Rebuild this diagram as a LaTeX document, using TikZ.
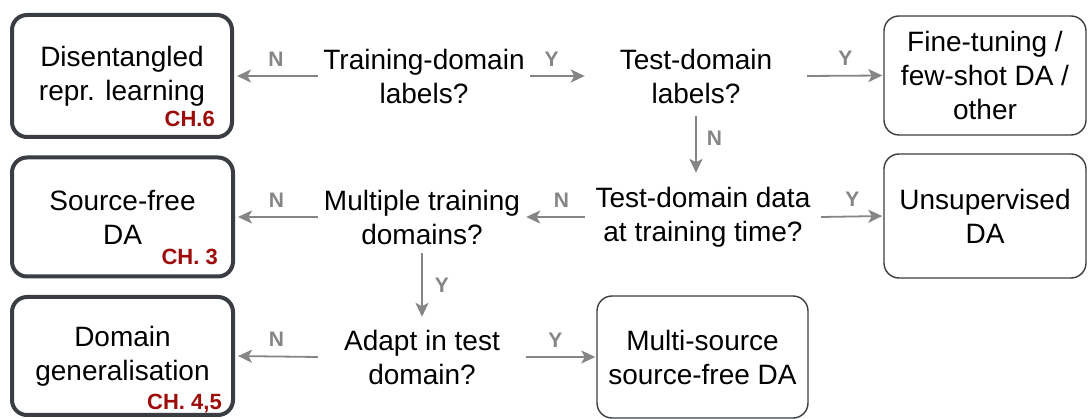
\documentclass[tikz,border=0pt]{standalone}
\usepackage{fontspec}
\setmainfont{Liberation Sans}
\usetikzlibrary{arrows.meta}
\definecolor{boxedge}{HTML}{3A3D42}
\definecolor{flowgray}{HTML}{858585}
\definecolor{chred}{HTML}{9E0B0B}
\begin{document}
\begin{tikzpicture}[x=1pt,y=-1pt,
  every node/.style={font=\fontsize{28}{34}\selectfont, align=center, inner sep=0pt},
  chapter/.style={draw=boxedge, line width=4pt, rounded corners=15pt, fill=white},
  outcome/.style={draw=boxedge, line width=1.4pt, rounded corners=15pt, fill=white},
  question/.style={},
  flow/.style={draw=flowgray, line width=1.8pt, -{Stealth[length=14pt,width=13pt,inset=3.5pt]}},
  yn/.style={font=\bfseries\fontsize{21}{22}\selectfont, text=flowgray},
  ch/.style={font=\bfseries\fontsize{22}{23}\selectfont, text=chred}]
\useasboundingbox (0,0) rectangle (1088,419);

% outcome boxes of the chapters
\node[chapter, minimum width=220pt, minimum height=122pt] (b1) at (122,76)
  {Disentangled\\repr. learning};
\node[chapter, minimum width=221pt, minimum height=119pt] (b2) at (122.5,217)
  {Source-free\\DA};
\node[chapter, minimum width=221pt, minimum height=118pt] (b3) at (122.5,356)
  {Domain\\generalisation};
\node[ch, anchor=base east] (ch6) at (215,127) {CH.6};
\node[ch, anchor=base east] (ch3) at (218,265) {CH. 3};
\node[ch, anchor=base east] (ch45) at (222,410) {CH. 4,5};

% other outcomes
\node[outcome, minimum width=202pt, minimum height=119pt] (o1) at (985,75.5)
  {Fine-tuning /\\few-shot DA /\\other};
\node[outcome, minimum width=202pt, minimum height=124pt] (o2) at (985,216)
  {Unsupervised\\DA};
\node[outcome, minimum width=211pt, minimum height=122pt] (o3) at (702.5,357)
  {Multi-source\\source-free DA};

% questions
\node[question, minimum width=212pt, minimum height=80pt] (q1) at (424,76)
  {Training-domain\\labels?};
\node[question, minimum width=222pt, minimum height=80pt] (q2) at (696,76)
  {Test-domain\\labels?};
\node[question, minimum width=208pt, minimum height=72pt] (q3) at (422,217)
  {Multiple training\\domains?};
\node[question, minimum width=236pt, minimum height=88pt] (q4) at (703,217)
  {Test-domain data\\at training time?};
\node[question, minimum width=208pt, minimum height=80pt] (q5) at (422,357)
  {Adapt in test\\domain?};

% decisions
\draw[flow, shorten >=3pt] (q1.west) -- node[yn, above=9pt] (n1) {N} (b1.east);
\draw[flow] (q1.east) -- node[yn, above=9pt, xshift=-6pt] (y1) {Y} (q2.west);
\draw[flow, shorten >=1pt] (q2.east) -- node[yn, above=9pt] (y2) {Y} (o1.west);
\draw[flow] (q2.south) -- node[yn, right=10pt, yshift=6pt] (n2) {N} (q2.south |- q4.north);
\draw[flow] (q4.west) -- node[yn, above=9pt, xshift=6pt] (n3) {N} (q3.east);
\draw[flow, shorten >=1pt] (q4.east) -- node[yn, above=9pt] (y3) {Y} (o2.west);
\draw[flow, shorten >=3pt] (q3.west) -- node[yn, above=9pt] (n4) {N} (b2.east);
\draw[flow] (q3.south) -- node[yn, right=12pt] (y4) {Y} (q5.north);
\draw[flow, shorten >=3pt] (q5.west) -- node[yn, above=9pt] (n5) {N} (b3.east);
\draw[flow, shorten >=1pt] (q5.east) -- node[yn, above=9pt, xshift=-6pt] (y5) {Y} (o3.west);
\end{tikzpicture}
\end{document}
